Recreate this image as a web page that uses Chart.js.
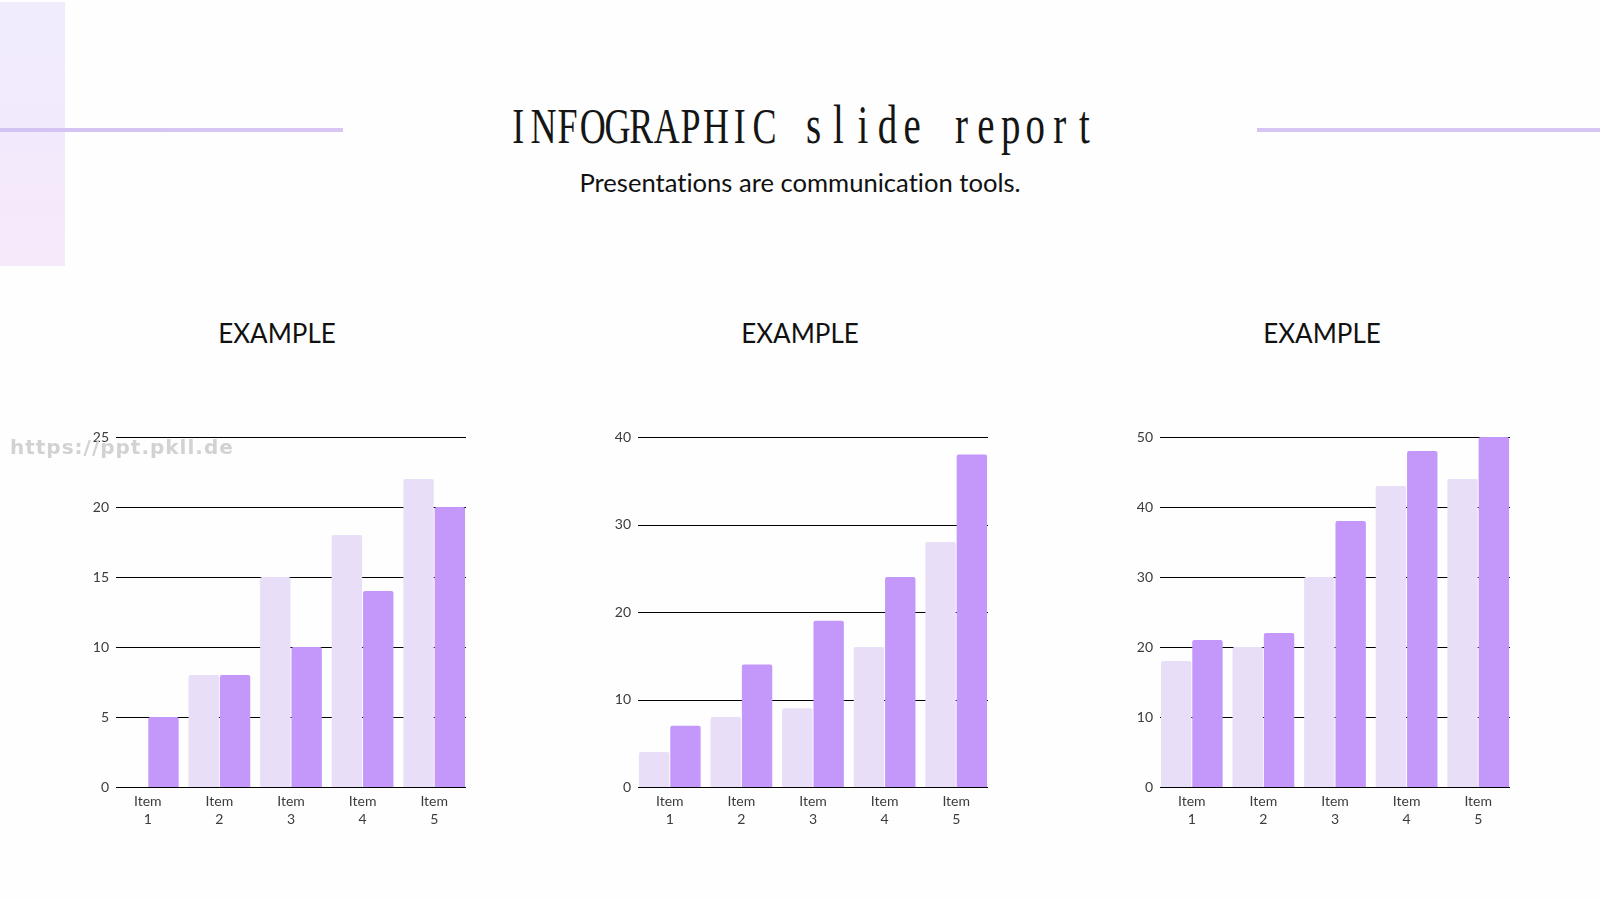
<!DOCTYPE html>
<html>
<head>
<meta charset="utf-8">
<script src="https://cdn.jsdelivr.net/npm/chart.js@4.4.0/dist/chart.umd.min.js"></script>
<style>
  html, body { margin: 0; padding: 0; }
  body { width: 1600px; height: 900px; position: relative; overflow: hidden; background: #fefefe; font-family: Lato, "Open Sans", sans-serif; }
  .panel { position: absolute; left: 0; top: 2px; width: 65px; height: 264px;
    background: linear-gradient(180deg, #f0ecfd 0%, #f2eafc 50%, #f6e9fa 100%); }
  .rule { position: absolute; height: 4px; top: 128px; }
  .rule.l { left: 0; width: 343px; background: linear-gradient(90deg, #d3c3f3, #d9c6f3); }
  .rule.r { left: 1257px; width: 343px; background: #d6c5f4; }
  .titlewrap { position: absolute; left: 0; width: 1600px; top: 95px; height: 60px; }
  .title { position: absolute; left: 800px; top: 0; white-space: nowrap;
    font-family: "Liberation Serif", "DejaVu Serif", serif; font-size: 50px; line-height: 60px; color: #151515;
    transform-origin: 0 0; }
  .title span { display: inline-block; width: 34.2px; text-align: center; }
  .title span.lc { font-size: 54px; }
  .sub { position: absolute; left: 0; width: 1600px; top: 166px; text-align: center;
    font-family: Lato, sans-serif; font-size: 25.6px; color: #111; line-height: 32px; font-variant-ligatures: none; }
  .ctitle { position: absolute; width: 400px; top: 317px; text-align: center;
    font-family: Lato, sans-serif; font-size: 26px; color: #111; line-height: 32px; }
  canvas { position: absolute; }
  .wm { position: absolute; left: 10px; top: 435px; font-family: "DejaVu Sans", sans-serif; font-weight: bold;
    font-size: 20px; color: #d2d2d2; letter-spacing: 1px; z-index: 5; }
</style>
</head>
<body>
<div class="panel"></div>
<div class="rule l"></div>
<div class="rule r"></div>
<div class="titlewrap"><div class="title" id="title"></div></div>
<div class="sub">Presentations are communication tools.</div>
<div class="ctitle" style="left:77px">EXAMPLE</div>
<div class="ctitle" style="left:600px">EXAMPLE</div>
<div class="ctitle" style="left:1122px">EXAMPLE</div>
<canvas id="c1" width="418" height="427" style="left:52px;top:420px"></canvas>
<canvas id="c2" width="418" height="427" style="left:574px;top:420px"></canvas>
<canvas id="c3" width="418" height="427" style="left:1096px;top:420px"></canvas>
<div class="wm">https://ppt.pkll.de</div>
<script>
// ---- data ----
const categories = [["Item", "1"], ["Item", "2"], ["Item", "3"], ["Item", "4"], ["Item", "5"]];
const chart1Light = [0, 8, 15, 18, 22];
const chart1Dark  = [5, 8, 10, 14, 20];
const chart2Light = [4, 8, 9, 16, 28];
const chart2Dark  = [7, 14, 19, 24, 38];
const chart3Light = [18, 20, 30, 43, 44];
const chart3Dark  = [21, 22, 38, 48, 50];
const yMax  = [25, 40, 50];
const yStep = [5, 10, 10];
const titleText = "INFOGRAPHIC slide report";

// title laid out in fixed-width cells (monospace look)
(function () {
  const SX = 0.72;
  const el = document.getElementById("title");
  for (const ch of titleText) {
    const s = document.createElement("span");
    s.textContent = ch === " " ? "\u00a0" : ch;
    if (/[a-z]/.test(ch)) s.className = "lc";
    el.appendChild(s);
  }
  const w = el.offsetWidth * SX;
  el.style.transform = "scaleX(" + SX + ")";
  el.style.left = (802 - w / 2) + "px";
})();

// ---- styles ----
const LIGHT = "#e8def7";
const DARK = "#c497fa";
const TICK_COLOR = "#3c3c3c";
const GRID_INSET = 4;

const insetGrid = {
  id: "insetGrid",
  beforeDatasetsDraw(chart) {
    const { ctx, chartArea, scales } = chart;
    const y = scales.y;
    ctx.save();
    ctx.strokeStyle = "#000";
    ctx.lineWidth = 1;
    y.ticks.forEach(t => {
      const py = Math.round(y.getPixelForValue(t.value)) + 0.5;
      ctx.beginPath();
      ctx.moveTo(chartArea.left + GRID_INSET, py);
      ctx.lineTo(chartArea.right - GRID_INSET, py);
      ctx.stroke();
    });
    ctx.restore();
  }
};

function makeChart(id, light, dark, max, step) {
  new Chart(document.getElementById(id), {
    type: "bar",
    data: {
      labels: categories,
      datasets: [
        { data: light, backgroundColor: LIGHT, borderRadius: { topLeft: 2, topRight: 2 }, borderSkipped: "start" },
        { data: dark, backgroundColor: DARK, borderRadius: { topLeft: 2, topRight: 2 }, borderSkipped: "start" }
      ]
    },
    options: {
      responsive: false,
      devicePixelRatio: 1,
      animation: false,
      layout: { padding: { top: 17, left: 0, right: 0, bottom: 0 } },
      categoryPercentage: 0.875,
      barPercentage: 0.97,
      plugins: { legend: { display: false }, tooltip: { enabled: false } },
      scales: {
        x: {
          grid: { display: false, drawTicks: false },
          border: { display: false },
          ticks: { color: TICK_COLOR, font: { family: "Lato", size: 14, lineHeight: 1.3 }, padding: 5, maxRotation: 0 },
          afterFit: s => { s.height = 60; }
        },
        y: {
          min: 0, max: max,
          grid: { display: false, drawTicks: false },
          border: { display: false },
          ticks: { stepSize: step, color: TICK_COLOR, font: { family: "Lato", size: 14 }, padding: 3 },
          afterFit: s => { s.width = 60; }
        }
      }
    },
    plugins: [insetGrid]
  });
}

makeChart("c1", chart1Light, chart1Dark, yMax[0], yStep[0]);
makeChart("c2", chart2Light, chart2Dark, yMax[1], yStep[1]);
makeChart("c3", chart3Light, chart3Dark, yMax[2], yStep[2]);
</script>
</body>
</html>
